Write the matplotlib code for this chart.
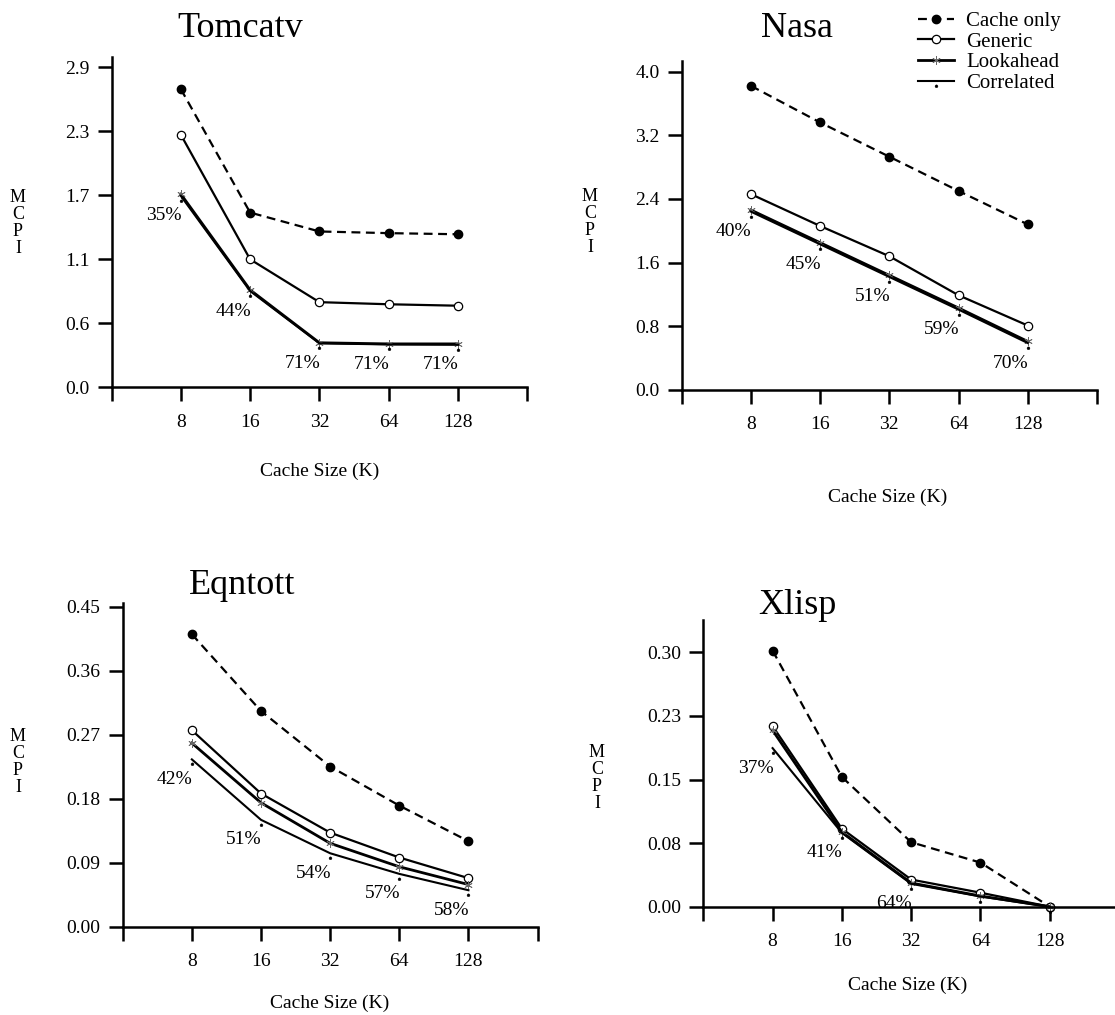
import matplotlib
matplotlib.use("Agg")
import matplotlib.pyplot as plt
import numpy as np
from matplotlib.path import Path
from matplotlib.lines import Line2D

plt.rcParams["font.family"] = ["Liberation Serif", "DejaVu Serif"]

# data
sizes = ["8", "16", "32", "64", "128"]
series_names = ["Cache only", "Generic", "Lookahead", "Correlated"]

tomcatv_cache = [2.68, 1.57, 1.40, 1.385, 1.375]
tomcatv_generic = [2.27, 1.15, 0.765, 0.746, 0.733]
tomcatv_look = [1.736, 0.875, 0.40, 0.39, 0.39]
tomcatv_corr = [1.72, 0.865, 0.395, 0.385, 0.382]
tomcatv_pct = ["35%", "44%", "71%", "71%", "71%"]
tomcatv_ticks = ["0.0", "0.6", "1.1", "1.7", "2.3", "2.9"]

nasa_cache = [3.82, 3.36, 2.93, 2.50, 2.08]
nasa_generic = [2.46, 2.06, 1.68, 1.19, 0.81]
nasa_look = [2.26, 1.85, 1.44, 1.03, 0.61]
nasa_corr = [2.24, 1.83, 1.42, 1.01, 0.59]
nasa_pct = ["40%", "45%", "51%", "59%", "70%"]
nasa_ticks = ["0.0", "0.8", "1.6", "2.4", "3.2", "4.0"]

eqn_cache = [0.411, 0.303, 0.225, 0.170, 0.120]
eqn_generic = [0.276, 0.187, 0.132, 0.097, 0.068]
eqn_look = [0.258, 0.174, 0.117, 0.084, 0.059]
eqn_corr = [0.235, 0.150, 0.103, 0.074, 0.051]
eqn_pct = ["42%", "51%", "54%", "57%", "58%"]
eqn_ticks = ["0.00", "0.09", "0.18", "0.27", "0.36", "0.45"]

xlisp_cache = [0.302, 0.153, 0.076, 0.052, 0.0]
xlisp_generic = [0.213, 0.092, 0.032, 0.0165, 0.0]
xlisp_look = [0.208, 0.088, 0.028, 0.0126, 0.0]
xlisp_corr = [0.187, 0.087, 0.027, 0.012, 0.0]
xlisp_pct = ["37%", "41%", "64%"]
xlisp_ticks = ["0.00", "0.08", "0.15", "0.23", "0.30"]

W, H = 1115, 1015
fig = plt.figure(figsize=(W / 100, H / 100), dpi=100)

# small dot drawn just under the line point (correlated marker)
t = np.linspace(0, 2 * np.pi, 20)
dot = Path(np.column_stack([0.3 * np.cos(t), -1 + 0.3 * np.sin(t)]))

styles = [
    dict(ls=(0, (4, 2.5)), lw=1.6, marker="o", ms=6, mfc="k", mec="k"),
    dict(ls="-", lw=1.6, marker="o", ms=6, mfc="white", mec="k", mew=0.9),
    dict(ls="-", lw=2.0, marker=(6, 2, 0), ms=6, mec="0.4", mew=0.6),
    dict(ls="-", lw=1.5, marker=dot, ms=9, mfc="k", mec="k", mew=0.3),
]


def fx(px):
    return px / W


def fy(py):
    return 1 - py / H


def panel(x0, y0, dx, step_px, top_steps, step_val, ticklabels, data, pct,
          title, tpos, mpos, xlpos):
    ax = fig.add_axes([fx(x0), fy(y0), 6 * dx / W, top_steps * step_px / H])
    x = np.arange(1, 6)
    for vals, st in zip(data, styles):
        ax.plot(x, vals, color="k", clip_on=False, **st)
    ax.set_xlim(0, 6)
    ax.set_ylim(0, top_steps * step_val)
    ax.set_xticks(range(7))
    ax.set_xticklabels([""] + sizes + [""], fontsize=14)
    ax.set_yticks(np.arange(len(ticklabels)) * step_val)
    ax.set_yticklabels(ticklabels, fontsize=14)
    for s in ["top", "right"]:
        ax.spines[s].set_visible(False)
    for s in ["left", "bottom"]:
        ax.spines[s].set_linewidth(1.8)
    ax.tick_params(axis="both", direction="out", length=10, width=1.8)
    ax.tick_params(axis="x", pad=9)
    ax.tick_params(axis="y", pad=6)
    ax.patch.set_alpha(0)
    for i, lab in enumerate(pct):
        ax.annotate(lab, (i + 1, data[3][i]), xytext=(-17, -20),
                    textcoords="offset pixels", ha="center", va="center",
                    fontsize=14)
    fig.text(fx(tpos[0]), fy(tpos[1]), title, fontsize=26, ha="center",
             va="baseline")
    fig.text(fx(mpos[0]), fy(mpos[1]), "M\nC\nP\nI", fontsize=13,
             ha="center", va="center", linespacing=1.0, multialignment="center")
    fig.text(fx(xlpos[0]), fy(xlpos[1]), "Cache Size (K)", fontsize=14,
             ha="center", va="center")
    return ax


panel(111.5, 387.3, 69.3, 64.0, 5.16, 0.575, tomcatv_ticks,
      [tomcatv_cache, tomcatv_generic, tomcatv_look, tomcatv_corr], tomcatv_pct,
      "Tomcatv", (240, 37), (18, 223), (320, 471))
panel(681.7, 390.0, 69.2, 63.7, 5.16, 0.8, nasa_ticks,
      [nasa_cache, nasa_generic, nasa_look, nasa_corr], nasa_pct,
      "Nasa", (797, 37), (590, 222), (888, 497))
panel(122.7, 926.5, 69.15, 64.0, 5.05, 0.09, eqn_ticks,
      [eqn_cache, eqn_generic, eqn_look, eqn_corr], eqn_pct,
      "Eqntott", (242, 594), (18, 762), (330, 1003))
panel(703.3, 906.7, 69.3, 63.6, 4.51, 0.075, xlisp_ticks,
      [xlisp_cache, xlisp_generic, xlisp_look, xlisp_corr], xlisp_pct,
      "Xlisp", (797, 614), (597, 778), (908, 985))

handles = [Line2D([], [], color="k", **st) for st in styles]
fig.legend(handles, series_names, loc="upper left",
           bbox_to_anchor=(fx(908), fy(1)), frameon=False, fontsize=15,
           borderpad=0, handlelength=1.7, handletextpad=0.6,
           labelspacing=0.05, numpoints=1)

fig.savefig("out.png", dpi=100)
